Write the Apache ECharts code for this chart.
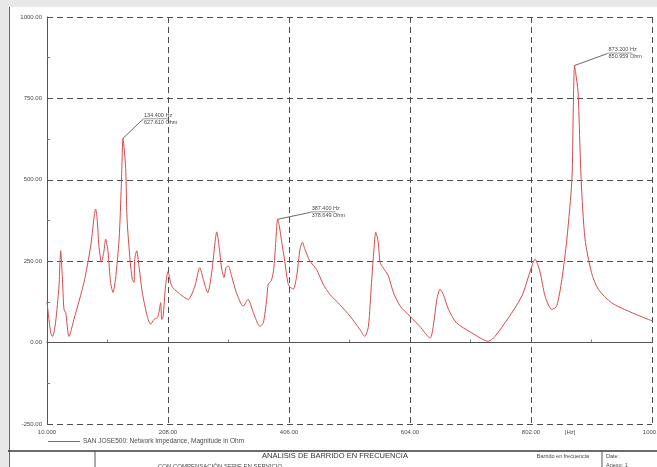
<!DOCTYPE html>
<html>
<head>
<meta charset="utf-8">
<script src="https://cdn.jsdelivr.net/npm/echarts@6/dist/echarts.min.js"></script>
<style>
  html, body { margin: 0; padding: 0; background: #e8e8e8; overflow: hidden; }
  #wrap { position: relative; width: 657px; height: 467px; }
  #paper { position: absolute; left: 9px; top: 7px; right: 0; bottom: 0; background: #ffffff; border-left: 1px solid #6a6a6a; }
  #chart { position: absolute; left: 0; top: 0; width: 657px; height: 467px; }
</style>
</head>
<body>
<div id="wrap"><div id="paper"></div><div id="chart"></div></div>
<script>
// ---------- DATA ----------
const X_MIN = 10;          // Hz, axis start
const X_MAX = 1000;        // Hz, axis end
const X_STEP = 198;        // Hz between ticks
const xTickLabels = ['10.000', '208.00', '406.00', '604.00', '802.00', '1000.0'];
const yTickValues = [-250, 0, 250, 500, 750, 1000];
const xUnitLabel = '[Hz]';
const seriesName = 'SAN JOSE500: Network Impedance, Magnitude in Ohm';

const freqHz = [
  10, 16, 19, 24, 29.6, 32.4, 35, 37.8, 40.6, 46, 54, 70.5, 81.5, 89.7, 92, 95, 99, 103, 106, 110,
  114, 118, 122, 128, 131.6, 134.4, 136, 138.8, 141, 145.8, 149.6, 152.4, 153.5, 156.8, 160.5, 166,
  174, 179.7, 185, 190.5, 193, 196, 197.7, 200, 204, 208, 214, 225, 241, 252, 260, 265.8, 273,
  279.5, 285, 287.7, 291.5, 296, 299.6, 303, 306.7, 312, 320, 331, 339, 347.6, 358.5, 364, 369.5,
  372, 377, 381, 384, 387.4, 390, 394, 399, 404, 407, 413, 418.6, 424, 428, 432, 440, 451, 462,
  473, 489, 506, 522, 530, 536, 541, 545, 548, 552, 555, 560, 568.5, 577, 588, 604, 620, 637, 642,
  648, 653, 658.5, 667, 680, 705, 732, 759.5, 787, 800, 808.6, 817, 825, 836, 844, 852.5, 860.7,
  869, 871, 873.2, 875, 879, 884, 890.4, 901, 912, 934, 961, 994, 1000
];
const impOhm = [
  125, 30, 19, 62, 174, 282, 205, 102, 92, 19, 71, 185, 297, 410, 380, 297, 247, 278, 318, 278,
  185, 154, 194, 318, 482, 627.61, 600, 534, 380, 256, 194, 185, 256, 282, 235, 153,
  81, 56, 71, 77, 92, 123, 71, 81, 174, 218, 174, 153, 133, 174, 230, 194, 153,
  215, 308, 340, 297, 225, 200, 230, 235, 205, 153, 112, 133, 92, 50, 61, 133,
  179, 190, 225, 300, 378.649, 360, 310, 250, 185, 172, 164, 205, 287, 308, 287, 251, 225, 179,
  148, 117, 81, 40, 19, 50, 184, 287, 339, 308, 246, 230, 205, 153, 112, 81, 50, 14, 50,
  133, 164, 148, 102, 61, 30, 4, 61, 143, 215, 256, 215, 143, 102, 112, 194, 318,
  503, 700, 850.959, 830, 770, 503, 318, 215, 164, 122, 97, 71, 67
];
// annotated resonance points (Hz, Ohm)
const markFreq = [134.4, 387.4, 873.2];
const markVal = [627.61, 378.649, 850.959];

const titleMain = 'ANÁLISIS DE BARRIDO EN FRECUENCIA';
const titleSub = 'CON COMPENSACIÓN SERIE EN SERVICIO';
const blockRight = 'Barrido en frecuencia';
const blockDate = 'Date:';
const blockAnnex = 'Anexo: 1';

// ---------- STYLE / LAYOUT ----------
const LINE_COLOR = '#d44a4a';
const GRID_COLOR = '#4d4d4d';
const TEXT_COLOR = '#4a4a4a';
const FONT = 'Liberation Sans, Arial, sans-serif';
const markOffsets = [[20, -19], [33, -7], [33, -12]];

const chart = echarts.init(document.getElementById('chart'), null, { renderer: 'canvas' });

const seriesData = freqHz.map((f, i) => [f - X_MIN, impOhm[i]]);

chart.setOption({
  backgroundColor: 'transparent',
  animation: false,
  textStyle: { fontFamily: FONT },
  grid: { left: 47, top: 17, width: 605, height: 407, containLabel: false, outerBoundsMode: 'none' },
  legend: {
    show: true,
    left: 43, top: 433,
    icon: 'rect', itemWidth: 32, itemHeight: 1, itemGap: 4,
    textStyle: { fontSize: 6.5, color: TEXT_COLOR, fontFamily: FONT, padding: [0, 0, 0, -2] },
    data: [seriesName]
  },
  xAxis: {
    type: 'value',
    min: 0, max: X_MAX - X_MIN, interval: X_STEP,
    axisLine: { show: true, lineStyle: { color: '#555', width: 1 } },
    axisTick: { show: true, inside: true, length: 3, lineStyle: { color: '#555' } },
    minorTick: { show: true, splitNumber: 2, length: 3, lineStyle: { color: '#777' } },
    axisLabel: {
      fontSize: 6, color: TEXT_COLOR, margin: 5, fontFamily: FONT, hideOverlap: false,
      formatter: v => xTickLabels[Math.round(v / X_STEP)] || ''
    },
    splitLine: { show: true, lineStyle: { color: GRID_COLOR, type: [6, 4], width: 1 } }
  },
  yAxis: {
    type: 'value',
    min: yTickValues[0], max: yTickValues[yTickValues.length - 1], interval: 250,
    axisLine: { show: true, lineStyle: { color: '#555', width: 1 } },
    axisTick: { show: true, inside: true, length: 3, lineStyle: { color: '#555' } },
    minorTick: { show: true, splitNumber: 2, length: 3, lineStyle: { color: '#777' } },
    axisLabel: { fontSize: 6, color: TEXT_COLOR, margin: 5, fontFamily: FONT, formatter: v => v.toFixed(2) },
    splitLine: { show: true, lineStyle: { color: GRID_COLOR, type: [6, 4], width: 1 } }
  },
  series: [{
    name: seriesName,
    type: 'line',
    data: seriesData,
    showSymbol: false,
    smooth: 0.25,
    itemStyle: { color: LINE_COLOR },
    lineStyle: { color: LINE_COLOR, width: 1 },
    z: 5
  }]
});

// ---------- annotations & title block ----------
const g = [];
markFreq.forEach((f, i) => {
  const p = chart.convertToPixel({ gridIndex: 0 }, [f - X_MIN, markVal[i]]);
  const k = [p[0] + markOffsets[i][0], p[1] + markOffsets[i][1]];
  g.push({ type: 'line', silent: true, z: 10,
    shape: { x1: p[0], y1: p[1], x2: k[0], y2: k[1] },
    style: { stroke: '#444', lineWidth: 0.8 } });
  g.push({ type: 'line', silent: true, z: 10,
    shape: { x1: k[0], y1: k[1] - 0.5, x2: k[0] + 25, y2: k[1] - 0.5 },
    style: { stroke: '#555', lineWidth: 0.6 } });
  g.push({ type: 'text', silent: true, z: 10, x: k[0] + 1, y: k[1] - 1,
    style: { text: f.toFixed(3) + ' Hz', fill: TEXT_COLOR, font: '5.5px ' + FONT, textVerticalAlign: 'bottom' } });
  g.push({ type: 'text', silent: true, z: 10, x: k[0] + 1, y: k[1],
    style: { text: markVal[i].toFixed(3) + ' Ohm', fill: TEXT_COLOR, font: '5.5px ' + FONT, textVerticalAlign: 'top' } });
});

// unit label on x axis
const up = chart.convertToPixel({ gridIndex: 0 }, [866 - X_MIN, yTickValues[0]]);
g.push({ type: 'text', silent: true, x: up[0], y: up[1] + 8,
  style: { text: xUnitLabel, fill: TEXT_COLOR, font: '6px ' + FONT, textAlign: 'center', textVerticalAlign: 'middle' } });

// title block
g.push({ type: 'line', silent: true, shape: { x1: 8, y1: 451, x2: 657, y2: 451 }, style: { stroke: '#3a3a3a', lineWidth: 1.5 } });
g.push({ type: 'line', silent: true, shape: { x1: 95, y1: 451, x2: 95, y2: 467 }, style: { stroke: '#555', lineWidth: 1 } });
g.push({ type: 'line', silent: true, shape: { x1: 602, y1: 451, x2: 602, y2: 467 }, style: { stroke: '#555', lineWidth: 1 } });
g.push({ type: 'text', silent: true, x: 335, y: 456,
  style: { text: titleMain, fill: '#333', font: '7.5px ' + FONT, textAlign: 'center', textVerticalAlign: 'middle' } });
g.push({ type: 'text', silent: true, x: 220, y: 466,
  style: { text: titleSub, fill: '#444', font: '6px ' + FONT, textAlign: 'center', textVerticalAlign: 'middle' } });
g.push({ type: 'text', silent: true, x: 563, y: 456,
  style: { text: blockRight, fill: '#444', font: '5.5px ' + FONT, textAlign: 'center', textVerticalAlign: 'middle' } });
g.push({ type: 'text', silent: true, x: 606, y: 456,
  style: { text: blockDate, fill: '#444', font: '5.5px ' + FONT, textAlign: 'left', textVerticalAlign: 'middle' } });
g.push({ type: 'text', silent: true, x: 606, y: 465,
  style: { text: blockAnnex, fill: '#444', font: '5.5px ' + FONT, textAlign: 'left', textVerticalAlign: 'middle' } });

chart.setOption({ graphic: g });
</script>
</body>
</html>
